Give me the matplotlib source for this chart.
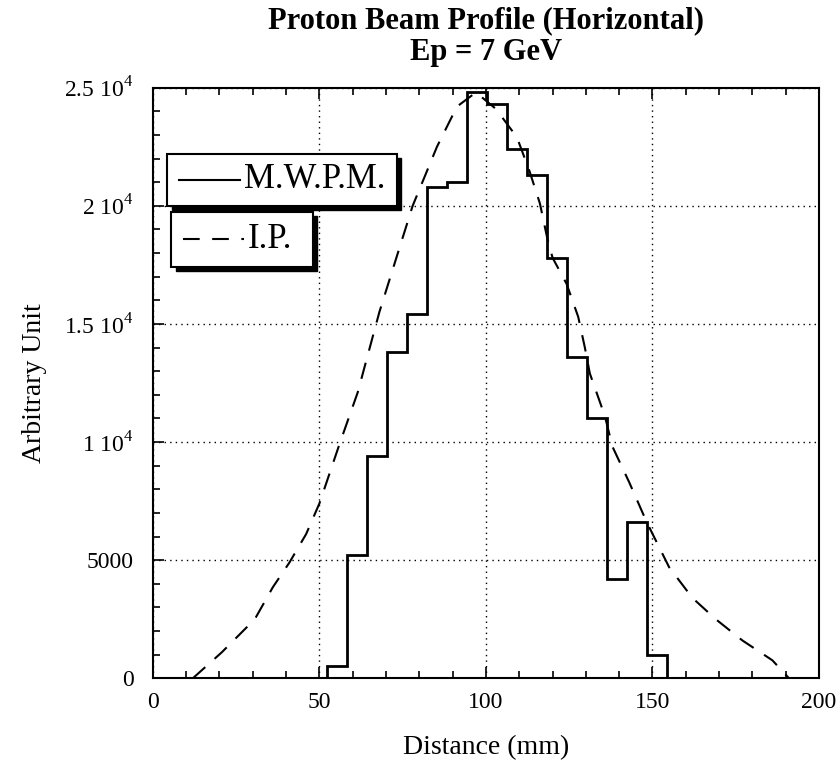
import matplotlib.pyplot as plt
from matplotlib.patches import Rectangle
from matplotlib.lines import Line2D
from matplotlib.ticker import MultipleLocator

plt.rcParams['font.family'] = ['Liberation Serif', 'DejaVu Serif']
plt.rcParams['mathtext.fontset'] = 'custom'
plt.rcParams['mathtext.rm'] = 'Liberation Serif'

# M.W.P.M. histogram (bin edges in mm, counts)
mwpm_edges = [52.3, 58.3, 64.3, 70.3, 76.3, 82.3, 88.3, 94.3, 100.3, 106.3,
              112.3, 118.3, 124.3, 130.3, 136.3, 142.3, 148.3, 154.3]
mwpm_vals = [500, 5200, 9400, 13800, 15400, 20800, 21000, 24800, 24300,
             22400, 21300, 17800, 13600, 11000, 4200, 6600, 1000]

# I.P. profile
ip_x = [12, 20.7, 30.6, 36, 41, 46, 50, 56, 61.5, 68, 78, 85.3, 91.3, 97,
        103, 109.3, 113, 116.2, 118.3, 120, 124.2, 127.7, 129.7, 131.2,
        135.7, 138, 143, 148.3, 155, 162, 169, 177, 186, 191]
ip_y = [0, 1100, 2500, 3850, 4900, 6100, 7400, 9900, 12100, 15500, 20000,
        22500, 24200, 24800, 24100, 22900, 21500, 20100, 18700, 17800, 16700,
        15300, 14000, 12900, 11100, 9800, 8300, 6600, 4700, 3400, 2500, 1600,
        760, 0]

yticks = [0, 5000, 10000, 15000, 20000, 25000]
ytick_labels = ['0', '5000', r'1 10$^{4}$', r'1.5 10$^{4}$', r'2 10$^{4}$',
                r'2.5 10$^{4}$']
xticks = [0, 50, 100, 150, 200]

fig = plt.figure(figsize=(8.4, 7.69), dpi=100)
ax = fig.add_axes([0.182, 0.118, 0.793, 0.768])

ax.stairs(mwpm_vals, mwpm_edges, baseline=0, color='black', linewidth=2.0)
ax.plot(ip_x, ip_y, color='black', linewidth=1.5, linestyle=(0, (8, 6)))

ax.set_xlim(0, 200)
ax.set_ylim(0, 25000)
ax.set_xticks(xticks)
ax.set_xticklabels([str(v) for v in xticks])
ax.set_yticks(yticks)
ax.set_yticklabels(ytick_labels)
ax.xaxis.set_minor_locator(MultipleLocator(10))
ax.yaxis.set_minor_locator(MultipleLocator(1000))
ax.tick_params(which='both', direction='in', top=True, right=False,
               labelsize=17, width=1.2)
ax.tick_params(axis='y', pad=14)
ax.tick_params(axis='x', pad=10)
ax.tick_params(which='major', length=8)
ax.tick_params(which='minor', length=5)
for s in ax.spines.values():
    s.set_linewidth(1.5)

ax.grid(True, which='major', color='black', linestyle=(0, (1, 3)),
        linewidth=1.0)

ax.set_xlabel('Distance (mm)', fontsize=20, labelpad=16)
ax.set_ylabel('Arbitrary Unit', fontsize=20, labelpad=12)
ax.set_title('Proton Beam Profile (Horizontal)\nEp = 7 GeV',
             fontsize=22, fontweight='bold', linespacing=1.1, pad=20)


def legend_box(x0, y0, x1, y1, label, ls):
    sh = 0.007
    ax.add_patch(Rectangle((x0 + sh, y0 - sh * 1.1), x1 - x0, y1 - y0,
                           transform=ax.transAxes, facecolor='black',
                           edgecolor='black', zorder=5))
    ax.add_patch(Rectangle((x0, y0), x1 - x0, y1 - y0,
                           transform=ax.transAxes, facecolor='white',
                           edgecolor='black', linewidth=1.5, zorder=6))
    ym = (y0 + y1) / 2
    ax.add_line(Line2D([x0 + 0.018, x0 + 0.11], [ym, ym],
                       transform=ax.transAxes, color='black',
                       linewidth=1.5, linestyle=ls, zorder=7))
    ax.text(x0 + 0.116, ym, label, transform=ax.transAxes, fontsize=25,
            va='center', ha='left', zorder=7)


legend_box(0.021, 0.800, 0.366, 0.888, 'M.W.P.M.', '-')
legend_box(0.027, 0.697, 0.240, 0.790, 'I.P.', (0, (8, 6)))

fig.savefig('out.png', dpi=100)
